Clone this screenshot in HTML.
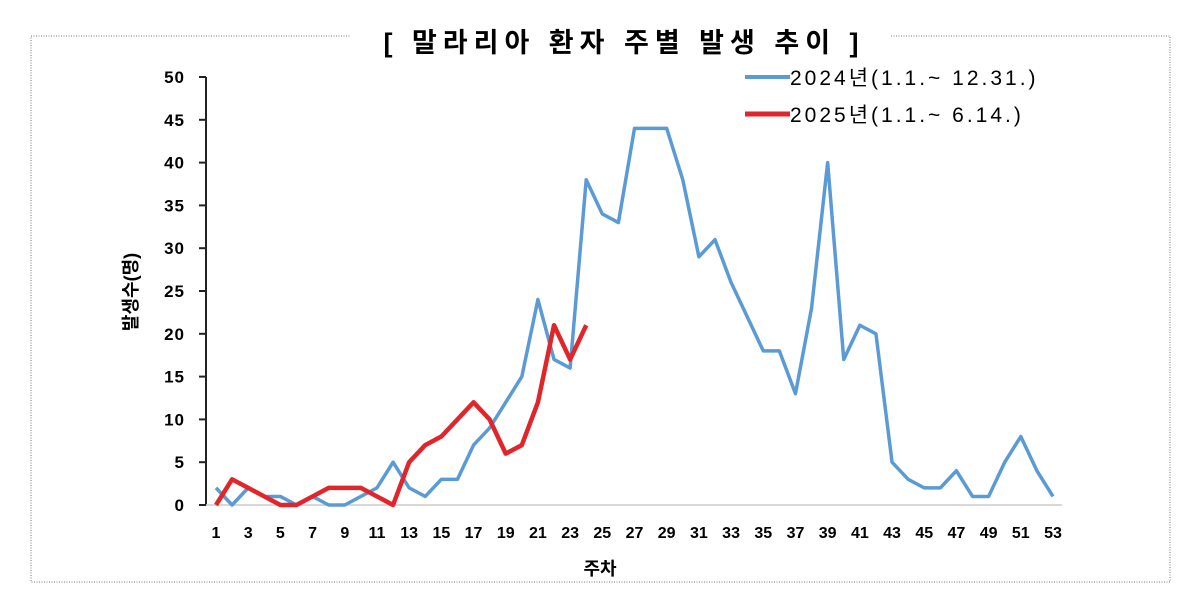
<!DOCTYPE html>
<html><head><meta charset="utf-8"><style>
body{margin:0;background:#fff;}
svg text{font-family:"Liberation Sans","Noto Sans CJK KR",sans-serif;}
</style></head><body>
<svg width="1200" height="601" xmlns="http://www.w3.org/2000/svg">
<rect x="31" y="36" width="1139" height="546" fill="none" stroke="#777" stroke-dasharray="1,1.5"/>
<rect x="350" y="20" width="540" height="40" fill="#fff"/>
<text x="624" y="52" text-anchor="middle" font-size="27" font-weight="bold" letter-spacing="6">[ 말라리아 환자 주별 발생 추이 ]</text>
<g id="axes"></g>
<g id="series"></g>
<text x="600" y="575" text-anchor="middle" font-size="18" font-weight="bold">주차</text>
<text transform="translate(137,292) rotate(-90)" text-anchor="middle" font-size="18" font-weight="bold">발생수(명)</text>
<g>
<line x1="745" y1="77" x2="790" y2="77" stroke="#5b9bd5" stroke-width="4"/>
<text x="790" y="85" font-size="21" letter-spacing="3">2024년(1.1.~ 12.31.)</text>
<line x1="745" y1="114" x2="790" y2="114" stroke="#e0262a" stroke-width="5"/>
<text x="790" y="122" font-size="21" letter-spacing="3">2025년(1.1.~ 6.14.)</text>
</g>
</svg>
<script>
const weeks = Array.from({length:53},(_,i)=>i+1);
const series2024 = [2,0,2,1,1,0,1,0,0,1,2,5,2,1,3,3,7,9,12,15,24,17,16,38,34,33,44,44,44,38,29,31,26,22,18,18,13,23,40,17,21,20,5,3,2,2,4,1,1,5,8,4,1];
const series2025 = [0,3,2,1,0,0,1,2,2,2,1,0,5,7,8,10,12,10,6,7,12,21,17,21];
const yTicks = [0,5,10,15,20,25,30,35,40,45,50];
const xTickLabels = [1,3,5,7,9,11,13,15,17,19,21,23,25,27,29,31,33,35,37,39,41,43,45,47,49,51,53];

const NS="http://www.w3.org/2000/svg";
const x = w => 216 + (w-1)*(1053-216)/52;
const y = v => 505 - v*(505-77)/50;
function mk(tag,attrs,parent,txt){const e=document.createElementNS(NS,tag);for(const k in attrs)e.setAttribute(k,attrs[k]);if(txt!==undefined)e.textContent=txt;parent.appendChild(e);return e;}
const axes=document.getElementById('axes'), ser=document.getElementById('series');
let yl=mk('line',{x1:206,y1:77,x2:206,y2:505,stroke:'#222','stroke-width':2},axes);


let xl=mk('line',{x1:206,y1:505,x2:1062,y2:505,stroke:'#ccc','stroke-width':1.5},axes);


yTicks.forEach(t=>{
  let tk=mk('line',{x1:199,y1:y(t),x2:206,y2:y(t),stroke:'#222','stroke-width':2},axes);
  
  
  let lb=mk('text',{x:185,y:y(t)+6,'text-anchor':'end','font-size':17,'font-weight':'bold','letter-spacing':1},axes,t);
  
  
});
xTickLabels.forEach(w=>{
  let lb=mk('text',{x:x(w),y:538,'text-anchor':'middle','font-size':16,'font-weight':'bold'},axes,w);
  
  
});
function line(data,color,wid,name){
  const pts=data.map((v,i)=>x(weeks[i])+','+y(v)).join(' ');
  let p=mk('polyline',{points:pts,fill:'none',stroke:color,'stroke-width':wid,'stroke-linejoin':'round'},ser);
  
  
}
line(series2024,'#5b9bd5',3.5,'series-2024-line');
line(series2025,'#e0262a',4.5,'series-2025-line');
</script>
</body></html>
